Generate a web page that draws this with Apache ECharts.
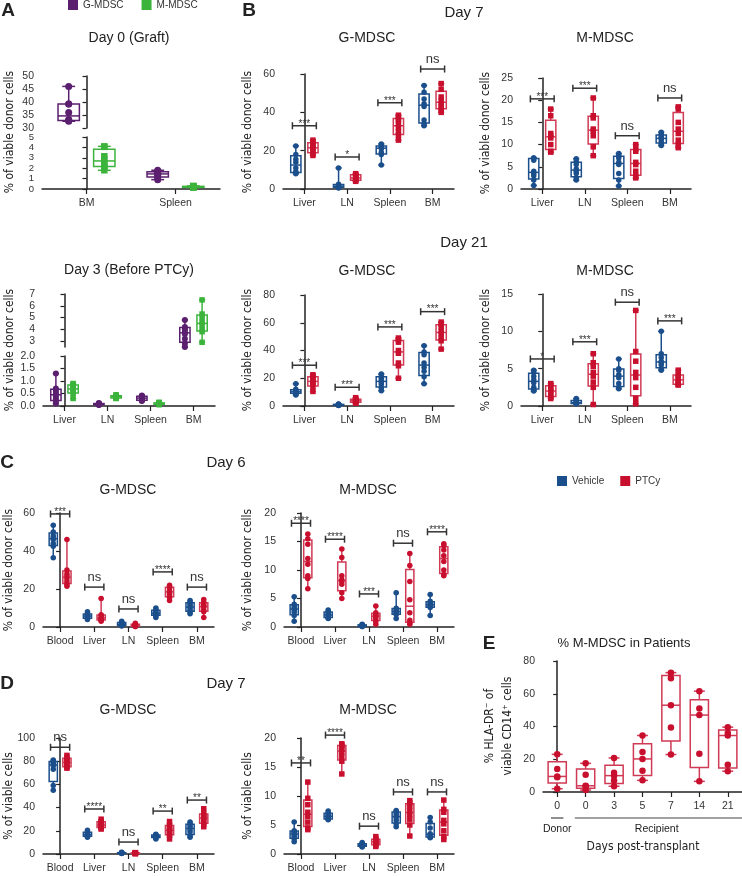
<!DOCTYPE html>
<html>
<head>
<meta charset="utf-8">
<script src="https://cdn.jsdelivr.net/npm/echarts@6.0.0/dist/echarts.min.js"></script>
<style>
html,body{margin:0;padding:0;background:#fff}
#fig{width:742px;height:876px}
</style>
</head>
<body>
<div id="fig"></div>
<script>
// ---- data ----
var a0Cats = ['BM', 'Spleen'];
var a0G = [[46, 39.2, 39.2, 36, 33.3, 33, 32.8, 32.6], [1.8, 1.7, 1.55, 1.5, 1.4, 1.3, 1.1, 0.9]];
var a0M = [[4.1, 4.05, 3.15, 2.9, 2.5, 2.25, 2.15, 1.8], [0.3, 0.26, 0.24, 0.22, 0.2, 0.18, 0.16, 0.14]];
var a0LowTicks = [0, 1, 2, 3, 4, 5];

var a3Cats = ['Liver', 'LN', 'Spleen', 'BM'];
var a3G = [[1.3, 0.7, 0.6, 0.5, 0.4, 0.3, 0.2, 0.1], [0.12, 0.1, 0.09, 0.08, 0.07, 0.06, 0.05, 0.04], [0.42, 0.4, 0.36, 0.33, 0.3, 0.26, 0.22, 0.2], [4.8, 4.2, 4.0, 3.8, 3.6, 3.2, 2.8, 2.5]];
var a3M = [[0.9, 0.86, 0.8, 0.72, 0.65, 0.58, 0.5, 0.3], [0.45, 0.42, 0.4, 0.38, 0.36, 0.34, 0.32, 0.3], [0.15, 0.13, 0.11, 0.1, 0.09, 0.08, 0.07, 0.05], [6.5, 5.3, 5.0, 4.6, 4.4, 4.0, 3.8, 2.9]];
var a3UpTicks = [3, 4, 5, 6, 7];

var bCats = ['Liver', 'LN', 'Spleen', 'BM'];
var b7gVeh = [[22.5, 18, 15.5, 14, 11, 9, 8.5, 8], [11, 2.5, 2, 1.6, 1.3, 1, 0.8, 0.5], [23.5, 22.5, 22, 21.6, 21, 19, 18, 12.5], [54, 50.5, 47, 44.5, 43, 36, 34, 33]];
var b7gPtc = [[25.5, 24.5, 23, 22, 21, 20, 18.5, 17.5], [8, 7.5, 7, 6, 5.5, 5, 4.5, 4], [38.5, 37, 36, 34, 32, 30, 28, 25.5], [55, 52, 48, 46, 44.5, 43, 41.5, 40]];
var b7gSig = ['***', '*', '***', 'ns'];
var b7gSigY = [33, 16.7, 45, 62.6];
var b7mVeh = [[7, 7, 6.5, 4, 3.5, 3, 2, 0.8], [6.8, 6.2, 5.5, 4.5, 4, 3.5, 2.5, 2], [8, 7.5, 7, 6, 5.5, 3.5, 2, 0.7], [12.8, 12.3, 11.8, 11.5, 11.3, 10.8, 10.2, 9.8]];
var b7mPtc = [[18, 16.5, 12.5, 12, 11.5, 10, 8.5, 8.3], [20.5, 16.5, 16, 13.5, 13, 12, 9.5, 7.5], [10, 9, 8.5, 6, 5.5, 4, 2.8, 2.5], [18.5, 18, 15, 13.5, 12.5, 11, 10, 9.3]];
var b7mSig = ['***', '***', 'ns', 'ns'];
var b7mSigY = [20.3, 22.7, 12, 20.5];
var b21gVeh = [[16, 12, 11, 10.5, 10, 9.5, 9, 8], [1.5, 1.2, 1, 0.8, 0.7, 0.5, 0.5, 0.3], [23, 21.5, 20, 18.5, 17, 15.5, 13, 11], [43.5, 39, 37, 31, 28, 25, 21, 16]];
var b21gPtc = [[22.5, 21.5, 20, 18, 17.5, 16, 14, 10.5], [6, 5, 4.5, 4, 3.5, 3, 2.5, 2], [49, 47.5, 46, 40, 38, 31, 29, 20], [60.5, 59, 57, 54, 52, 49, 47, 41]];
var b21gSig = ['***', '***', '***', '***'];
var b21gSigY = [29.4, 13.5, 57, 68];
var b21mVeh = [[4.8, 4.5, 4, 3.5, 3.1, 2.5, 2.2, 2], [1, 0.8, 0.6, 0.5, 0.4, 0.4, 0.3, 0.3], [6.3, 5, 4.8, 4.2, 3.8, 3, 2.5, 2.3], [10, 7, 6.5, 6, 5.8, 5.5, 5, 4.8]];
var b21mPtc = [[3, 2.8, 2.5, 2.1, 1.9, 1.5, 1.2, 1], [7, 5.8, 5.3, 4.5, 4, 3.2, 2.5, 0.2], [12.8, 7.3, 6, 4.5, 3.8, 2.5, 1, 0.3], [4.8, 4.2, 4, 3.6, 3.4, 3, 2.9, 2.8]];
var b21mSig = ['*', '***', 'ns', '***'];
var b21mSigY = [6.3, 8.6, 13.9, 11.4];

var cdCats = ['Blood', 'Liver', 'LN', 'Spleen', 'BM'];
var c6gVeh = [[53.5, 50, 48, 47, 46, 44, 42.5, 36.5], [8, 7, 6.5, 6, 5.5, 5, 4.5, 4], [3, 2.5, 2, 1.5, 1.2, 1, 0.8, 0.5], [10, 9, 8.5, 7.5, 7, 6.5, 6, 5], [14, 13, 12, 11, 10, 9, 8, 7]];
var c6gPtc = [[46, 30, 28, 27, 25.5, 24, 22.5, 21.5], [15, 6.5, 6, 5, 4.5, 4, 3.5, 3], [2, 1.5, 1.2, 1, 0.8, 0.5, 0.3, 0.2], [22, 21, 20.5, 19, 18, 17, 15.5, 14], [14.5, 13, 12, 11, 10.5, 9, 8, 5]];
var c6gSig = ['***', 'ns', 'ns', '****', 'ns'];
var c6gSigY = [59.5, 21, 9.5, 29, 21];
var c6mVeh = [[5.3, 4, 3.6, 3.3, 3, 2.6, 2, 1], [3, 2.7, 2.4, 2.2, 2, 1.8, 1.6, 1.5], [0.5, 0.4, 0.3, 0.3, 0.2, 0.2, 0.1, 0.1], [6, 3.3, 3, 2.8, 2.6, 2.4, 2.2, 1.5], [5.7, 4.5, 4.2, 4, 3.8, 3.6, 3.4, 2]];
var c6mPtc = [[16.3, 15.5, 14.5, 12, 11, 9, 8.5, 6.7], [13.7, 12.2, 9, 8.3, 8, 7.5, 6, 5], [3.7, 2.5, 2.2, 2, 1.8, 1.5, 1, 0.5], [12.9, 10.8, 8, 4.8, 2.5, 1.2, 0.7, 0.5], [14.6, 14.3, 13.5, 12.5, 11.5, 10, 9.2, 9]];
var c6mSig = ['****', '****', '***', 'ns', '****'];
var c6mSigY = [18.2, 15.4, 5.8, 14.7, 16.7];

var d7gVeh = [[81, 80, 79, 77.5, 76, 73, 59, 55], [20.5, 19, 18, 17, 16.5, 16, 15, 14.5], [1.5, 1.2, 1, 0.9, 0.8, 0.7, 0.6, 0.5], [17, 16.5, 16, 15.5, 15, 14.5, 14, 13], [27.5, 26, 25, 23, 21, 19, 16, 14.5]];
var d7gPtc = [[85, 83, 81, 80, 78, 76, 75, 74], [30, 28, 27, 25.5, 24.5, 23.5, 22.5, 21.5], [1.2, 1, 0.9, 0.8, 0.6, 0.5, 0.4, 0.3], [28, 25, 23, 21, 20, 18, 16, 13], [39, 35, 33, 31.5, 30.5, 28, 26, 23.5]];
var d7gSig = ['ns', '****', 'ns', '**', '**'];
var d7gSigY = [92, 38.8, 10.3, 37, 46.5];
var d7mVeh = [[5.5, 4, 3.8, 3.6, 3.3, 3, 2.6, 2.1], [7.4, 7.1, 6.8, 6.6, 6.4, 6.2, 6, 5.9], [2, 1.8, 1.6, 1.5, 1.5, 1.4, 1.3, 1.2], [7.5, 7.3, 7, 6.6, 6.3, 5.8, 5.2, 4.7], [6.3, 5.5, 4.5, 3.5, 3.3, 3, 2.9, 2.8]];
var d7mPtc = [[12.4, 9.6, 8.5, 7.2, 6.5, 5.5, 4.5, 4.2], [19, 18.8, 18.5, 18, 17.5, 16.8, 16, 13.8], [3, 2.6, 2.4, 2.2, 2, 1.8, 1.5, 1.3], [9.2, 8.8, 8.3, 7.5, 6.8, 6, 5, 3.1], [9.3, 7.7, 7.2, 5.8, 5.2, 4, 3, 2.5]];
var d7mSig = ['**', '****', 'ns', 'ns', 'ns'];
var d7mSigY = [15.7, 20.5, 4.8, 10.7, 10.7];

var eCats = ['0', '0', '3', '5', '7', '14', '21'];
var ePts = [[23, 14, 9.5, 9, 2], [17.5, 10.5, 3.8, 3.5, 1.2], [20.8, 11.8, 10, 7, 3.5], [34.5, 24.5, 20.2, 13, 7.1], [72.9, 69.4, 53, 39.4, 22.9], [61.6, 51, 47, 23.3, 6.5], [39.6, 36.1, 34.5, 16.7, 12.7]];

// ---- style ----
var PURPLE = '#5b1f6f', GREEN = '#3cb43c', BLUE = '#1b4f8c', RED = '#c8102e', REDBOX = '#d03a55';
var FONT = 'Liberation Sans, Arial, sans-serif';
var NARROW = "'Liberation Sans Narrow', 'DejaVu Sans Condensed', sans-serif";
var INK = '#222';

// quartiles the GraphPad way ((n+1)p)
function q(s, p) {
  var pos = (s.length + 1) * p;
  if (pos <= 1) return s[0];
  if (pos >= s.length) return s[s.length - 1];
  var lo = Math.floor(pos);
  return s[lo - 1] + (pos - lo) * (s[lo] - s[lo - 1]);
}
function stats(a) {
  var s = a.slice().sort(function (x, y) { return x - y; });
  return [s[0], q(s, 0.25), q(s, 0.5), q(s, 0.75), s[s.length - 1]];
}

var option = {
  animation: false,
  textStyle: { fontFamily: FONT },
  grid: [], xAxis: [], yAxis: [], series: [], graphic: [],
  legend: [
    { data: ['G-MDSC', 'M-MDSC'], left: 68, top: 0, padding: 0, icon: 'rect', itemWidth: 10, itemHeight: 10, itemGap: 18,
      selectedMode: false, textStyle: { fontSize: 10, color: '#333', fontFamily: FONT } },
    { data: ['Vehicle', 'PTCy'], left: 557, top: 476, padding: 0, icon: 'rect', itemWidth: 10, itemHeight: 10, itemGap: 16,
      selectedMode: false, textStyle: { fontSize: 10, color: '#333', fontFamily: FONT } }
  ]
};

function addGrid(box, cats, y, showX) {
  var g = option.grid.length;
  option.grid.push({ left: box[0], top: box[1], width: box[2], height: box[3] });
  option.xAxis.push({
    type: 'category', gridIndex: g, data: cats,
    axisLine: { show: showX, lineStyle: { color: INK, width: 1.5 } },
    axisTick: { show: showX, alignWithLabel: true, length: 5, lineStyle: { color: INK, width: 1.2 } },
    axisLabel: { show: showX, color: '#333', fontSize: 10.5, margin: 9, interval: 0, hideOverlap: false },
    splitLine: { show: false }
  });
  option.xAxis.push({ type: 'value', gridIndex: g, min: -0.5, max: cats.length - 0.5, show: false });
  var ya = {
    type: 'value', gridIndex: g, min: y.min, max: y.max,
    axisLine: { show: true, lineStyle: { color: INK, width: 1.5 } },
    axisTick: { show: true, length: 4, lineStyle: { color: INK, width: 1.2 } },
    axisLabel: { color: '#333', fontSize: y.fs || 10.5, lineHeight: 9, margin: 8, showMinLabel: true, showMaxLabel: true, hideOverlap: false },
    splitLine: { show: false }
  };
  if (y.interval) ya.interval = y.interval;
  if (y.ticks) { ya.axisTick.customValues = y.ticks; ya.axisLabel.customValues = y.ticks; }
  if (y.fmt) ya.axisLabel.formatter = y.fmt;
  option.yAxis.push(ya);
  return g;
}

function boxRenderer(stroke, bw) {
  return function (p, api) {
    var x = api.value(0);
    var lo = api.coord([x, api.value(1)]), q1 = api.coord([x, api.value(2)]),
        md = api.coord([x, api.value(3)]), q3 = api.coord([x, api.value(4)]),
        hi = api.coord([x, api.value(5)]);
    var w = api.size([bw, 0])[0], c = w * 0.3, cx = lo[0];
    var ls = { stroke: stroke, lineWidth: 1.5 };
    return { type: 'group', children: [
      { type: 'line', shape: { x1: cx, y1: lo[1], x2: cx, y2: q1[1] }, style: ls },
      { type: 'line', shape: { x1: cx, y1: q3[1], x2: cx, y2: hi[1] }, style: ls },
      { type: 'line', shape: { x1: cx - c, y1: lo[1], x2: cx + c, y2: lo[1] }, style: ls },
      { type: 'line', shape: { x1: cx - c, y1: hi[1], x2: cx + c, y2: hi[1] }, style: ls },
      { type: 'rect', shape: { x: cx - w / 2, y: q3[1], width: w, height: q1[1] - q3[1] }, style: { fill: '#fff', stroke: stroke, lineWidth: 1.5 } },
      { type: 'line', shape: { x1: cx - w / 2, y1: md[1], x2: cx + w / 2, y2: md[1] }, style: ls }
    ] };
  };
}

// groups: one array of points per category (null = drawn elsewhere)
function addGroups(g, groups, off, col, boxCol, sym, name, size, bw) {
  var boxes = [], pts = [];
  groups.forEach(function (arr, i) {
    if (!arr) return;
    boxes.push([i + off].concat(stats(arr)));
    arr.forEach(function (v) { pts.push([i + off, v]); });
  });
  option.series.push({ type: 'custom', xAxisIndex: 2 * g + 1, yAxisIndex: g, silent: true, z: 2,
    renderItem: boxRenderer(boxCol, bw), data: boxes });
  option.series.push({ type: 'scatter', name: name, xAxisIndex: 2 * g + 1, yAxisIndex: g, silent: true, z: 3,
    symbol: sym, symbolSize: size, itemStyle: { color: col, opacity: 1 }, data: pts });
}

function split(groups, cut, upper) {
  return groups.map(function (a) {
    var m = Math.min.apply(null, a);
    return (m >= cut) === upper ? a : null;
  });
}

function addSig(g, labels, ys, half) {
  var data = labels.map(function (l, i) { return [i - half, i + half, ys[i]]; });
  option.series.push({ type: 'custom', xAxisIndex: 2 * g + 1, yAxisIndex: g, silent: true, z: 4, data: data,
    renderItem: function (p, api) {
      var a = api.coord([api.value(0), api.value(2)]), b = api.coord([api.value(1), api.value(2)]);
      var t = labels[p.dataIndex], ns = t === 'ns';
      var st = { stroke: '#333', lineWidth: 1.5 };
      return { type: 'group', children: [
        { type: 'line', shape: { x1: a[0], y1: a[1], x2: b[0], y2: b[1] }, style: st },
        { type: 'line', shape: { x1: a[0], y1: a[1] - 3.5, x2: a[0], y2: a[1] + 3.5 }, style: st },
        { type: 'line', shape: { x1: b[0], y1: b[1] - 3.5, x2: b[0], y2: b[1] + 3.5 }, style: st },
        { type: 'text', x: (a[0] + b[0]) / 2, y: a[1] + (ns ? -3 : 3),
          style: { text: t, fill: '#333', font: (ns ? '13px ' : '10px ') + FONT, align: 'center', verticalAlign: 'bottom' } }
      ] };
    } });
}

function txt(x, y, s, font, rot) {
  option.graphic.push({ type: 'text', x: x, y: y, rotation: rot || 0, silent: true,
    style: { text: s, font: font, fill: '#222', align: 'center', verticalAlign: 'middle' } });
}

var OFF = 0.2, BW = 0.24, HALF = 0.28;

// ---- panel A ----
var gA0u = addGrid([42, 76, 178, 52], a0Cats, { min: 30, max: 50, interval: 5 }, false);
var gA0l = addGrid([42, 137, 178, 52], a0Cats, { min: 0, max: 5, ticks: a0LowTicks, fs: 9.5 }, true);
addGroups(gA0u, split(a0G, 10, true), -OFF, PURPLE, PURPLE, 'circle', 'G-MDSC', 7, BW);
addGroups(gA0l, split(a0G, 10, false), -OFF, PURPLE, PURPLE, 'circle', 'G-MDSC', 7, BW);
addGroups(gA0l, a0M, OFF, GREEN, GREEN, 'rect', 'M-MDSC', 6.5, BW);

var gA3u = addGrid([43, 294, 172, 53], a3Cats, { min: 2.5, max: 7, ticks: a3UpTicks }, false);
var gA3l = addGrid([43, 356, 172, 50], a3Cats, { min: 0, max: 2, interval: 0.5, fmt: function (v) { return v.toFixed(1); } }, true);
addGroups(gA3u, split(a3G, 2.2, true), -OFF, PURPLE, PURPLE, 'circle', 'G-MDSC', 6, BW);
addGroups(gA3l, split(a3G, 2.2, false), -OFF, PURPLE, PURPLE, 'circle', 'G-MDSC', 6, BW);
addGroups(gA3u, split(a3M, 2.2, true), OFF, GREEN, GREEN, 'rect', 'M-MDSC', 5.5, BW);
addGroups(gA3l, split(a3M, 2.2, false), OFF, GREEN, GREEN, 'rect', 'M-MDSC', 5.5, BW);

// ---- panel B ----
function pairPanel(box, cats, y, veh, ptc, sig, sigY, vSym, pSym) {
  var g = addGrid(box, cats, y, true);
  addGroups(g, veh, -OFF, BLUE, BLUE, vSym, 'Vehicle', 5.5, BW);
  addGroups(g, ptc, OFF, RED, REDBOX, pSym, 'PTCy', 5.5, BW);
  addSig(g, sig, sigY, HALF);
}
pairPanel([283, 74, 171, 115], bCats, { min: 0, max: 60, interval: 20 }, b7gVeh, b7gPtc, b7gSig, b7gSigY, 'circle', 'rect');
pairPanel([521, 78, 170, 111], bCats, { min: 0, max: 25, interval: 5 }, b7mVeh, b7mPtc, b7mSig, b7mSigY, 'circle', 'rect');
pairPanel([283, 295, 171, 111], bCats, { min: 0, max: 80, interval: 20 }, b21gVeh, b21gPtc, b21gSig, b21gSigY, 'circle', 'rect');
pairPanel([521, 294, 170, 112], bCats, { min: 0, max: 15, interval: 5 }, b21mVeh, b21mPtc, b21mSig, b21mSigY, 'circle', 'rect');

// ---- panels C and D ----
pairPanel([43, 513, 171, 114], cdCats, { min: 0, max: 60, interval: 20 }, c6gVeh, c6gPtc, c6gSig, c6gSigY, 'circle', 'circle');
pairPanel([284, 513, 170, 114], cdCats, { min: 0, max: 20, interval: 5 }, c6mVeh, c6mPtc, c6mSig, c6mSigY, 'circle', 'circle');
pairPanel([43, 738, 171, 116], cdCats, { min: 0, max: 100, interval: 20 }, d7gVeh, d7gPtc, d7gSig, d7gSigY, 'circle', 'rect');
pairPanel([284, 738, 170, 116], cdCats, { min: 0, max: 20, interval: 5 }, d7mVeh, d7mPtc, d7mSig, d7mSigY, 'circle', 'rect');

// ---- panel E ----
var E = [543, 661, 199, 131];
var gE = addGrid(E, eCats, { min: 0, max: 80, interval: 20 }, true);
addGroups(gE, ePts, 0, RED, REDBOX, 'circle', 'PTCy-patients', 6.5, 0.64);

// ---- texts ----
var H = 'bold 19px ' + FONT;
txt(8, 11, 'A', H); txt(249, 11, 'B', H); txt(7, 463, 'C', H); txt(7, 684, 'D', H); txt(489, 644, 'E', H);
var T = '14px ' + FONT, TD = '15px ' + FONT;
txt(129, 38, 'Day 0 (Graft)', T);
txt(129, 270, 'Day 3 (Before PTCy)', T);
txt(464, 13, 'Day 7', TD);
txt(367, 38, 'G-MDSC', T); txt(605, 38, 'M-MDSC', T);
txt(464, 243, 'Day 21', TD);
txt(367, 271, 'G-MDSC', T); txt(605, 271, 'M-MDSC', T);
txt(226, 463, 'Day 6', TD);
txt(128, 490, 'G-MDSC', T); txt(368, 490, 'M-MDSC', T);
txt(226, 684, 'Day 7', TD);
txt(128, 710, 'G-MDSC', T); txt(368, 710, 'M-MDSC', T);
txt(624, 643, '% M-MDSC in Patients', '13px ' + FONT);

var YN = '12px ' + NARROW, R = Math.PI / 2;
txt(10, 132, '% of viable donor cells', YN, R);
txt(10, 350, '% of viable donor cells', YN, R);
txt(248, 132, '% of viable donor cells', YN, R);
txt(486, 133, '% of viable donor cells', YN, R);
txt(248, 350, '% of viable donor cells', YN, R);
txt(486, 350, '% of viable donor cells', YN, R);
txt(9, 570, '% of viable donor cells', YN, R);
txt(248, 570, '% of viable donor cells', YN, R);
txt(9, 796, '% of viable cells', YN, R);
txt(248, 796, '% of viable cells', YN, R);
txt(490, 726, '% HLA-DR\u207B of', YN, R);
txt(508, 726, 'viable CD14\u207A cells', YN, R);

// donor / recipient grouping under panel E's axis
var band = E[2] / eCats.length;
function catX(i) { return E[0] + (i + 0.5) * band; }
option.graphic.push({ type: 'line', silent: true, shape: { x1: catX(0) - 0.22 * band, y1: 818, x2: catX(0) + 0.22 * band, y2: 818 }, style: { stroke: '#444', lineWidth: 1.2 } });
option.graphic.push({ type: 'line', silent: true, shape: { x1: catX(1) - 0.38 * band, y1: 818, x2: catX(6) + 0.5 * band, y2: 818 }, style: { stroke: '#444', lineWidth: 1.2 } });
txt(catX(0), 829, 'Donor', '10.5px ' + FONT);
txt((catX(1) + catX(6)) / 2, 829, 'Recipient', '10.5px ' + FONT);
txt(643, 847, 'Days post-transplant', '12px ' + NARROW);

var chart = echarts.init(document.getElementById('fig'));
chart.setOption(option);
</script>
</body>
</html>
